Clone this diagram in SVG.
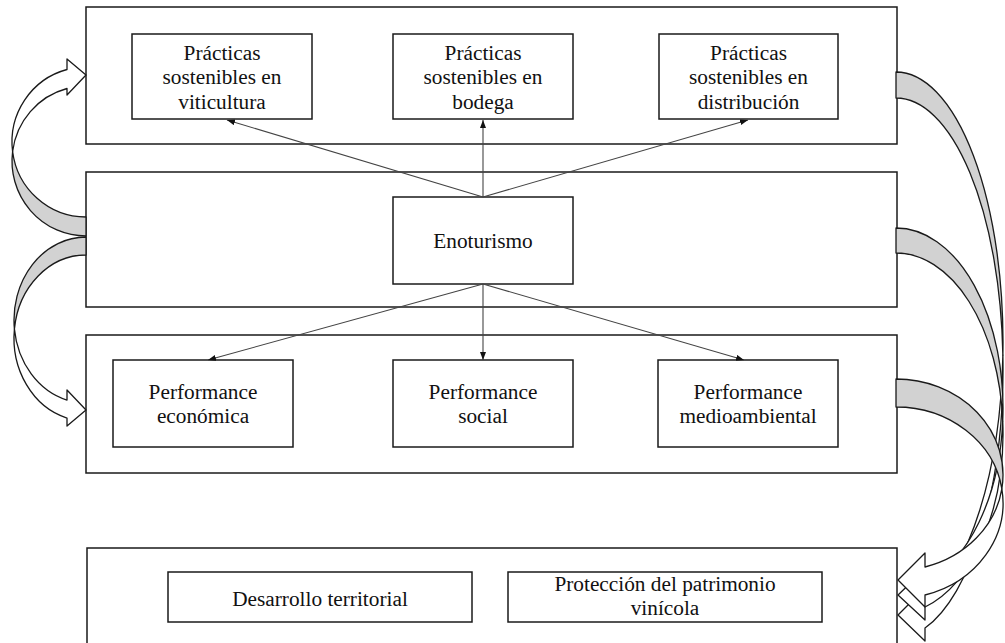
<svg xmlns="http://www.w3.org/2000/svg" width="1005" height="643" viewBox="0 0 1005 643">
<style>
.frame{fill:#fff;stroke:#1a1a1a;stroke-width:1.5}
.box{fill:#fff;stroke:#1a1a1a;stroke-width:1.5}
.lbl{font-family:'Liberation Serif','DejaVu Serif',serif;font-size:21.3px;fill:#111;text-anchor:middle}
.conn{stroke:#444;stroke-width:1.1;fill:none;marker-end:url(#ah)}
.shade{fill:#d2d2d2;stroke:#1a1a1a;stroke-width:1.3;stroke-linejoin:round}
.front{fill:#fff;stroke:#1a1a1a;stroke-width:1.3;stroke-linejoin:round}
</style>
<defs>
<marker id="ah" markerUnits="userSpaceOnUse" markerWidth="9" markerHeight="7" refX="8" refY="3" orient="auto">
<path d="M0,0 L8,3 L0,6 z" fill="#111"/>
</marker>
</defs>
<rect width="1005" height="643" fill="#fff"/>

<g id="frame-practicas"><rect class="frame" x="86" y="7" width="811" height="137"/></g>
<g id="frame-enoturismo"><rect class="frame" x="86" y="172" width="811" height="135"/></g>
<g id="frame-performance"><rect class="frame" x="86" y="335" width="811" height="138"/></g>
<g id="frame-resultados"><rect class="frame" x="87" y="548" width="810" height="110"/></g>

<g font-family="Liberation Serif, DejaVu Serif, serif">
<g id="n-viticultura"><rect class="box" x="132" y="34" width="180" height="85"/>
<text class="lbl" x="222" y="59.5">Prácticas</text><text class="lbl" x="222" y="84">sostenibles en</text><text class="lbl" x="222" y="108.5">viticultura</text></g>
<g id="n-bodega"><rect class="box" x="393" y="34" width="180" height="85"/>
<text class="lbl" x="483" y="59.5">Prácticas</text><text class="lbl" x="483" y="84">sostenibles en</text><text class="lbl" x="483" y="108.5">bodega</text></g>
<g id="n-distribucion"><rect class="box" x="659" y="34" width="179" height="85"/>
<text class="lbl" x="748.5" y="59.5">Prácticas</text><text class="lbl" x="748.5" y="84">sostenibles en</text><text class="lbl" x="748.5" y="108.5">distribución</text></g>

<g id="n-enoturismo"><rect class="box" x="393" y="197" width="180" height="87"/>
<text class="lbl" x="483" y="248">Enoturismo</text></g>

<g id="n-economica"><rect class="box" x="113" y="360" width="180" height="87"/>
<text class="lbl" x="203" y="398.5">Performance</text><text class="lbl" x="203" y="423">económica</text></g>
<g id="n-social"><rect class="box" x="393" y="360" width="180" height="87"/>
<text class="lbl" x="483" y="398.5">Performance</text><text class="lbl" x="483" y="423">social</text></g>
<g id="n-medioambiental"><rect class="box" x="658" y="360" width="180" height="87"/>
<text class="lbl" x="748" y="398.5">Performance</text><text class="lbl" x="748" y="423">medioambiental</text></g>

<g id="n-desarrollo"><rect class="box" x="168" y="572" width="304" height="50"/>
<text class="lbl" x="320" y="606">Desarrollo territorial</text></g>
<g id="n-proteccion"><rect class="box" x="508" y="572" width="314" height="50"/>
<text class="lbl" x="665" y="591">Protección del patrimonio</text><text class="lbl" x="665" y="615">vinícola</text></g>
</g>

<g id="connectors">
<line class="conn" x1="483" y1="197" x2="227" y2="120"/>
<line class="conn" x1="483" y1="197" x2="483" y2="120"/>
<line class="conn" x1="483" y1="197" x2="748" y2="120"/>
<line class="conn" x1="483" y1="284" x2="208" y2="360"/>
<line class="conn" x1="483" y1="284" x2="483" y2="360"/>
<line class="conn" x1="483" y1="284" x2="744" y2="360"/>

<g id="curve-left-up">
<path class="shade" d="M 12.6 151.5 A 74 75 0 0 0 86 217 L 86 236 A 74 75 0 0 1 12.6 151.5 Z"/>
<path class="front" d="M 67 69.5 L 67 59 L 86 75 L 67 95 L 67 88.5 A 74 75 0 0 0 12.6 151.5 A 74 75 0 0 1 67 69.5 Z"/>
</g>
<g id="curve-left-down">
<path class="shade" d="M 86 237 A 72 83 0 0 0 14.42 329 A 72 83 0 0 1 86 255 Z"/>
<path class="front" d="M 14.42 329 A 72 83 0 0 0 67 400.06 L 67 390 L 86 410 L 67 426 L 67 418.06 A 72 83 0 0 1 14.42 329 Z"/>
</g>
<g id="curve-right-a">
<path class="shade" d="M 896 72 A 107 270.05 0 0 1 1002.88 355.05 A 107 270.05 0 0 0 896 98 Z"/>
<path class="front" d="M 1002.88 355.05 A 107 270.05 0 0 1 925 628 L 925 641 L 898 615 L 925 588 L 925 602 A 107 270.05 0 0 0 1002.88 355.05 Z"/>
</g>
<g id="curve-right-b">
<path class="shade" d="M 896 228 A 107 180.38 0 0 1 1002.74 420.88 A 107 180.38 0 0 0 896 253 Z"/>
<path class="front" d="M 1002.74 420.88 A 107 180.38 0 0 1 925 607 L 925 620 L 898 595 L 925 569 L 925 582 A 107 180.38 0 0 0 1002.74 420.88 Z"/>
</g>
<g id="curve-right-c">
<path class="shade" d="M 896 379 A 107 95.79 0 0 1 1001.85 488.79 A 107 95.79 0 0 0 896 407 Z"/>
<path class="front" d="M 1001.85 488.79 A 107 95.79 0 0 1 925 595 L 925 607 L 898 580 L 925 553 L 925 567 A 107 95.79 0 0 0 1001.85 488.79 Z"/>
</g>
</g>
</svg>
